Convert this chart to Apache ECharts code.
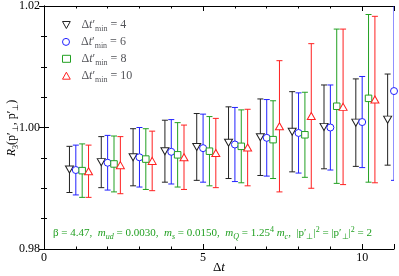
<!DOCTYPE html>
<html><head><meta charset="utf-8">
<script src="https://cdn.jsdelivr.net/npm/echarts@6/dist/echarts.min.js"></script>
<style>html,body{margin:0;padding:0;background:#fff}#c{width:399px;height:276px}</style>
</head><body><div id="c"></div>
<script>
// ---- data ----
const dt = [1, 2, 3, 4, 5, 6, 7, 8, 9, 10, 11];
const val4  = [0.9931, 0.9943, 0.9951, 0.9961, 0.9968, 0.9975, 0.9984, 0.9993, 1.0001, 1.0008, 1.0013];
const err4  = [0.0038, 0.0042, 0.0047, 0.0051, 0.0055, 0.0059, 0.0063, 0.0066, 0.0069, 0.0072, 0.0075];
const val6  = [0.9930, 0.9942, 0.9951, 0.9960, 0.9966, 0.9972, 0.9983, 0.9991, 1.0000, 1.0009, 1.0060];
const err6  = [0.0041, 0.0045, 0.0049, 0.0053, 0.0056, 0.0061, 0.0063, 0.0066, 0.0070, 0.0075, 0.0147];
const val8  = [0.9929, 0.9940, 0.9948, 0.9955, 0.9961, 0.9969, 0.9980, 0.9988, 1.0035, 1.0048, null];
const err8  = [0.0044, 0.0046, 0.0050, 0.0053, 0.0057, 0.0060, 0.0064, 0.0070, 0.0127, 0.0138, null];
const val10 = [0.9928, 0.9938, 0.9945, 0.9951, 0.9958, 0.9967, 1.0002, 1.0019, 1.0034, 1.0046, null];
const err10 = [0.0043, 0.0047, 0.0049, 0.0053, 0.0057, 0.0063, 0.0108, 0.0119, 0.0128, 0.0137, null];
const seriesNames = ['4', '6', '8', '10'];
const xTickLabels = [0, 5, 10];
const yTickLabels = ['0.98', '1.00', '1.02'];

// ---- styling ----
const FONT = 'Liberation Serif';
const GREEN_TXT = '#22a022';
const sets = [
  {name: seriesNames[0], vals: val4,  errs: err4,  off: -0.2, color: '#222222', symbol: 'path://M0,0 L10,0 L5,9 Z', size: [8, 7]},
  {name: seriesNames[1], vals: val6,  errs: err6,  off: 0.0,  color: '#2020ff', symbol: 'circle', size: 7},
  {name: seriesNames[2], vals: val8,  errs: err8,  off: 0.2,  color: '#22a022', symbol: 'rect', size: 6.5},
  {name: seriesNames[3], vals: val10, errs: err10, off: 0.4,  color: '#ff2020', symbol: 'path://M5,0 L10,9 L0,9 Z', size: [8, 7]}
];

const rich = {
  n: {fontFamily: FONT, fontSize: 12, lineHeight: 16},
  i: {fontFamily: FONT, fontSize: 12, lineHeight: 16, fontStyle: 'italic'},
  s: {fontFamily: FONT, fontSize: 8, lineHeight: 9, verticalAlign: 'bottom'},
  si: {fontFamily: FONT, fontSize: 8, lineHeight: 9, verticalAlign: 'bottom', fontStyle: 'italic'},
  sup: {fontFamily: FONT, fontSize: 8, lineHeight: 9, verticalAlign: 'top'}
};
const richA = {
  n: {fontFamily: FONT, fontSize: 11, lineHeight: 15, fill: GREEN_TXT},
  i: {fontFamily: FONT, fontSize: 11, lineHeight: 15, fontStyle: 'italic', fill: GREEN_TXT},
  si: {fontFamily: FONT, fontSize: 8, lineHeight: 8, verticalAlign: 'bottom', fontStyle: 'italic', fill: GREEN_TXT},
  s: {fontFamily: FONT, fontSize: 8, lineHeight: 8, verticalAlign: 'bottom', fill: GREEN_TXT},
  sup: {fontFamily: FONT, fontSize: 8, lineHeight: 8, verticalAlign: 'top', fill: GREEN_TXT}
};

function xAx(pos, interval, len, labels) {
  return {
    type: 'value', position: pos, min: 0, max: 11, interval: interval,
    axisLine: {show: len < 5, lineStyle: {color: '#000', width: 1}},
    axisTick: {show: true, inside: true, length: len, lineStyle: {color: '#000'}},
    axisLabel: labels ? {show: true, color: '#000', fontFamily: FONT, fontSize: 12, margin: 3,
      formatter: v => xTickLabels.indexOf(Math.round(v * 1000) / 1000) >= 0 ? String(Math.round(v)) : ''} : {show: false},
    splitLine: {show: false}
  };
}
function yAx(pos, interval, len, labels) {
  return {
    type: 'value', position: pos, min: 0.98, max: 1.02, interval: interval,
    axisLine: {show: len < 5, lineStyle: {color: '#000', width: 1}},
    axisTick: {show: true, inside: true, length: len, lineStyle: {color: '#000'}},
    axisLabel: labels ? {show: true, color: '#000', fontFamily: FONT, fontSize: 12, margin: 4,
      formatter: v => yTickLabels.indexOf(v.toFixed(3).slice(0, 4)) >= 0 && Math.abs(v * 50 - Math.round(v * 50)) < 1e-6 ? v.toFixed(2) : ''} : {show: false},
    splitLine: {show: false}
  };
}

const series = [];
sets.forEach(s => {
  const data = [];
  const pts = [];
  dt.forEach((d, k) => {
    if (s.vals[k] == null) return;
    data.push([d + s.off, s.vals[k] - s.errs[k], s.vals[k] + s.errs[k]]);
    pts.push([d + s.off, s.vals[k]]);
  });
  series.push({
    type: 'custom', name: s.name + '_err', clip: true, silent: true, z: 2,
    data: data,
    encode: {x: 0, y: [1, 2]},
    renderItem: (params, api) => {
      const x = api.value(0), lo = api.value(1), hi = api.value(2);
      const a = api.coord([x, hi]), b = api.coord([x, lo]);
      const w = 3;
      const st = {stroke: s.color, lineWidth: 1};
      return {type: 'group', children: [
        {type: 'line', shape: {x1: a[0], y1: a[1], x2: b[0], y2: b[1]}, style: st},
        {type: 'line', shape: {x1: a[0] - w, y1: a[1], x2: a[0] + w, y2: a[1]}, style: st},
        {type: 'line', shape: {x1: b[0] - w, y1: b[1], x2: b[0] + w, y2: b[1]}, style: st}
      ]};
    }
  });
  series.push({
    type: 'scatter', name: s.name, data: pts, clip: false, z: 3,
    symbol: s.symbol, symbolSize: s.size,
    itemStyle: {color: '#fff', borderColor: s.color, borderWidth: 1, opacity: 1}
  });
});

const legends = sets.map((s, k) => ({
  data: [s.name], left: 62, top: 19 + 16.9 * k, orient: 'vertical',
  itemWidth: 8, itemHeight: 7, itemGap: 0, padding: 0,
  itemStyle: {borderWidth: 1},
  textStyle: {padding: [0, 0, 0, 6], rich: rich},
  formatter: nm => '{n|\u0394}{i|t}{n|\u2032}{s|min}{n| = ' + nm + '}'
}));

const chart = echarts.init(document.getElementById('c'), null, {renderer: 'canvas'});
chart.setOption({
  backgroundColor: '#fff',
  animation: false,
  grid: {left: 44, top: 5, width: 350, height: 244, containLabel: false},
  xAxis: [xAx('bottom', 1, 2.5, true), xAx('bottom', 5, 5, false), xAx('top', 1, 2.5, false), xAx('top', 5, 5, false)],
  yAxis: [yAx('left', 0.005, 3, true), yAx('left', 0.02, 5, false), yAx('right', 0.005, 3, false), yAx('right', 0.02, 5, false)],
  legend: legends,
  series: series,
  graphic: [
    {type: 'text', x: 219, y: 268, style: {text: '{n|\u0394}{i|t}', rich: {n: {fontFamily: FONT, fontSize: 13}, i: {fontFamily: FONT, fontSize: 13, fontStyle: 'italic'}}, align: 'center', verticalAlign: 'middle', fill: '#000'}},
    {type: 'text', x: 12, y: 128, rotation: Math.PI / 2, style: {
      text: '{i|R}{s|3}{n|(p\u2032}{s|\u22a5}{n|, p\u2032}{s|\u22a5}{n|)}', rich: rich,
      align: 'center', verticalAlign: 'middle', fill: '#000'}},
    {type: 'text', x: 53, y: 233, style: {
      text: '{n|\u03b2 = 4.47,  }{i|m}{si|ud}{n| = 0.0030,  }{i|m}{si|s}{n| = 0.0150,  }{i|m}{si|Q}{n| = 1.25}{sup|4}{n| }{i|m}{si|c}{n|,  |p\u2032}{s|\u22a5}{n||}{sup|2}{n| = |p\u2032}{s|\u22a5}{n||}{sup|2}{n| = 2}',
      rich: richA, align: 'left', verticalAlign: 'middle', fill: GREEN_TXT}}
  ]
});
</script></body></html>
